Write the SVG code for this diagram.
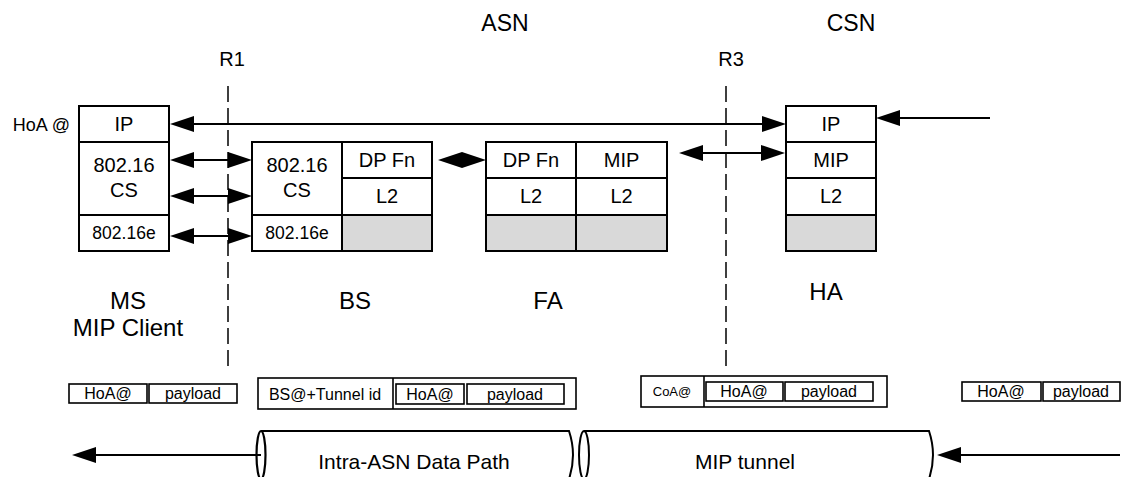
<svg xmlns="http://www.w3.org/2000/svg" width="1123" height="477" viewBox="0 0 1123 477">
<style>
text{font-family:"Liberation Sans",Arial,sans-serif;fill:#000}
.c{text-anchor:middle}
.box{fill:#fff;stroke:#000;stroke-width:2}
.ln{fill:none;stroke:#000;stroke-width:2}
.gray{fill:#d9d9d9;stroke:#000;stroke-width:2}
.t20{font-size:20px}
.t17{font-size:17.5px}
.t16{font-size:16px}
.lab{font-size:24px}
.conn{fill:none;stroke:#000;stroke-width:1.8}
.dash{fill:none;stroke:#000;stroke-width:1.5;stroke-dasharray:16 6}
.pk{fill:#fff;stroke:#000;stroke-width:1.6}
</style>
<defs>
<marker id="ah" markerUnits="userSpaceOnUse" markerWidth="24" markerHeight="16" refX="0" refY="8" orient="auto-start-reverse" viewBox="0 0 24 16">
<path d="M0,0 L24,8 L0,16 z" fill="#000"/>
</marker>
</defs>

<g id="headers">
<text class="c" x="505" y="31" style="font-size:23px">ASN</text>
<text class="c" x="851" y="31" style="font-size:23px">CSN</text>
<text class="c" x="232" y="66" style="font-size:20px">R1</text>
<text class="c" x="731" y="66" style="font-size:20px">R3</text>
</g>

<g id="ms">
<text x="70" y="131" text-anchor="end" style="font-size:18px">HoA @</text>
<rect class="box" x="79" y="106" width="90" height="145"/>
<line class="ln" x1="79" y1="142" x2="169" y2="142"/>
<line class="ln" x1="79" y1="215" x2="169" y2="215"/>
<text class="c t20" x="124" y="131">IP</text>
<text class="c t20" x="124" y="172">802.16</text>
<text class="c t20" x="124" y="197">CS</text>
<text class="c t17" x="124" y="239">802.16e</text>
<text class="c lab" x="128" y="309">MS</text>
<text class="c lab" x="128" y="336">MIP Client</text>
</g>

<g id="bs">
<rect class="box" x="252" y="142" width="180" height="109"/>
<rect class="gray" x="342" y="215" width="90" height="36"/>
<line class="ln" x1="342" y1="142" x2="342" y2="251"/>
<line class="ln" x1="252" y1="215" x2="342" y2="215"/>
<line class="ln" x1="342" y1="178" x2="432" y2="178"/>
<text class="c t20" x="297" y="172">802.16</text>
<text class="c t20" x="297" y="197">CS</text>
<text class="c t17" x="297" y="239">802.16e</text>
<text class="c t20" x="387" y="167">DP Fn</text>
<text class="c t20" x="387" y="203">L2</text>
<text class="c lab" x="355" y="309">BS</text>
</g>

<g id="fa">
<rect class="box" x="486" y="142" width="181" height="109"/>
<rect class="gray" x="486" y="215" width="90" height="36"/>
<rect class="gray" x="576" y="215" width="91" height="36"/>
<line class="ln" x1="576" y1="142" x2="576" y2="251"/>
<line class="ln" x1="486" y1="178" x2="667" y2="178"/>
<text class="c t20" x="531" y="167">DP Fn</text>
<text class="c t20" x="621.5" y="167">MIP</text>
<text class="c t20" x="531" y="203">L2</text>
<text class="c t20" x="621.5" y="203">L2</text>
<text class="c lab" x="548" y="309">FA</text>
</g>

<g id="ha">
<rect class="box" x="786" y="106" width="90" height="145"/>
<rect class="gray" x="786" y="215" width="90" height="36"/>
<line class="ln" x1="786" y1="142" x2="876" y2="142"/>
<line class="ln" x1="786" y1="178" x2="876" y2="178"/>
<text class="c t20" x="831" y="131">IP</text>
<text class="c t20" x="831" y="167">MIP</text>
<text class="c t20" x="831" y="203">L2</text>
<text class="c lab" x="826" y="300">HA</text>
</g>

<g id="packets">
<rect class="pk" x="69" y="384" width="78" height="19"/>
<rect class="pk" x="149" y="384" width="88" height="19"/>
<text class="c t16" x="108" y="399">HoA@</text>
<text class="c t16" x="193" y="399">payload</text>

<rect class="pk" x="258" y="378" width="318" height="31"/>
<line class="ln" x1="393" y1="378" x2="393" y2="409" style="stroke-width:1.6"/>
<rect class="pk" x="396" y="384" width="68" height="20"/>
<rect class="pk" x="467" y="384" width="97" height="20"/>
<text class="c t16" x="325" y="400">BS@+Tunnel id</text>
<text class="c t16" x="430" y="400">HoA@</text>
<text class="c t16" x="515" y="400">payload</text>

<rect class="pk" x="641" y="376" width="246" height="31"/>
<line class="ln" x1="704" y1="376" x2="704" y2="407" style="stroke-width:1.6"/>
<rect class="pk" x="706" y="382" width="77" height="19"/>
<rect class="pk" x="785" y="382" width="88" height="19"/>
<text class="c" x="672" y="396" style="font-size:13px">CoA@</text>
<text class="c t16" x="744" y="397">HoA@</text>
<text class="c t16" x="829" y="397">payload</text>

<rect class="pk" x="962" y="382" width="79" height="19"/>
<rect class="pk" x="1043" y="382" width="77" height="19"/>
<text class="c t16" x="1001" y="397">HoA@</text>
<text class="c t16" x="1081" y="397">payload</text>
</g>

<g id="tunnels">
<path class="ln" d="M261,431 L569,431 Q577,455 569,479 L261,479"/>
<ellipse class="ln" cx="261" cy="455" rx="4.5" ry="24" style="stroke-width:2.2"/>
<path class="ln" d="M584,431 L929,431 Q937,455 929,479 L584,479"/>
<ellipse class="ln" cx="584" cy="455" rx="5" ry="24"/>
<text class="c" x="414" y="469" style="font-size:21px">Intra-ASN Data Path</text>
<text class="c" x="745" y="469" style="font-size:21px">MIP tunnel</text>
</g>

<g id="connectors">
<line class="dash" x1="228" y1="86" x2="228" y2="366"/>
<line class="dash" x1="726" y1="86" x2="726" y2="366"/>
<line class="conn" x1="194" y1="124" x2="762" y2="124" marker-start="url(#ah)" marker-end="url(#ah)"/>
<line class="conn" x1="990" y1="118" x2="900" y2="118" marker-end="url(#ah)"/>
<line class="conn" x1="194" y1="160" x2="228" y2="160" marker-start="url(#ah)" marker-end="url(#ah)"/>
<line class="conn" x1="194" y1="196" x2="228" y2="196" marker-start="url(#ah)" marker-end="url(#ah)"/>
<line class="conn" x1="194" y1="236" x2="228" y2="236" marker-start="url(#ah)" marker-end="url(#ah)"/>
<line class="conn" x1="462" y1="160" x2="462.5" y2="160" marker-start="url(#ah)"/>
<line class="conn" x1="462" y1="160" x2="461.5" y2="160" marker-start="url(#ah)"/>
<line class="conn" x1="703" y1="153" x2="761" y2="153" marker-start="url(#ah)" marker-end="url(#ah)"/>
<line class="conn" x1="261" y1="455" x2="96" y2="455" marker-end="url(#ah)"/>
<line class="conn" x1="1120" y1="455" x2="961" y2="455" marker-end="url(#ah)"/>
</g>
</svg>
